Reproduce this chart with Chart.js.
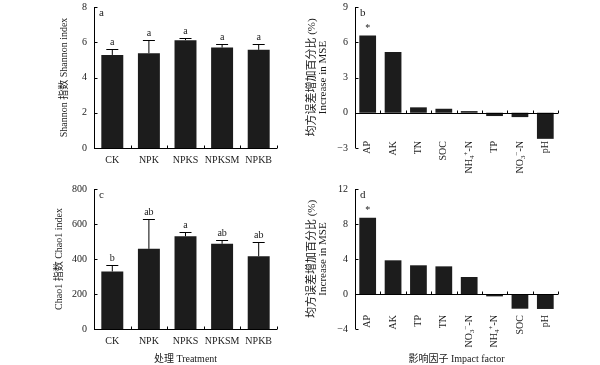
<!DOCTYPE html>
<html>
<head>
<meta charset="utf-8">
<script src="https://cdn.jsdelivr.net/npm/chart.js@4/dist/chart.umd.min.js"></script>
<style>
  body { margin: 0; background: #fff; width: 600px; height: 365px; position: relative; overflow: hidden; }
  canvas { position: absolute; }
</style>
</head>
<body>
<canvas id="pa" width="300" height="175" style="left:0;top:0"></canvas>
<canvas id="pb" width="300" height="175" style="left:300px;top:0"></canvas>
<canvas id="pc" width="300" height="190" style="left:0;top:175px"></canvas>
<canvas id="pd" width="300" height="190" style="left:300px;top:175px"></canvas>
<script>
// treatments (panels a, c)
const treatments = ['CK', 'NPK', 'NPKS', 'NPKSM', 'NPKB'];
const shannonMean = [5.28, 5.38, 6.12, 5.70, 5.57];
const shannonErr = [0.33, 0.76, 0.12, 0.19, 0.34];
const shannonSig = ['a', 'a', 'a', 'a', 'a'];
const chaoMean = [329, 458, 530, 487, 416];
const chaoErr = [34, 173, 27, 21, 84];
const chaoSig = ['b', 'ab', 'a', 'ab', 'ab'];

// impact factors (panels b, d)
const factorsB = ['AP', 'AK', 'TN', 'SOC', 'NH₄⁺-N', 'TP', 'NO₃⁻-N', 'pH'];
const mseB = [6.58, 5.16, 0.46, 0.34, 0.14, -0.28, -0.37, -2.22];
const starB = ['*', '', '', '', '', '', '', ''];
const factorsD = ['AP', 'AK', 'TP', 'TN', 'NO₃⁻-N', 'NH₄⁺-N', 'SOC', 'pH'];
const mseD = [8.72, 3.85, 3.28, 3.16, 1.94, -0.27, -1.68, -1.71];
const starD = ['*', '', '', '', '', '', '', ''];

const serif = '"Liberation Serif", "Times New Roman", "Noto Sans CJK SC", serif';
const ink = '#1a1a1a';
Chart.defaults.font.family = serif;
Chart.defaults.color = ink;

const SUB = { '₀': '0', '₁': '1', '₂': '2', '₃': '3', '₄': '4', '₅': '5' };
const SUP = { '⁺': '+', '⁻': '\u2212' };

// split a label into normal / sub / sup runs
function runs(label) {
  const out = [];
  for (const ch of label) {
    let kind = 0, c = ch;
    if (SUB[ch]) { kind = 1; c = SUB[ch]; }
    else if (SUP[ch]) { kind = -1; c = SUP[ch]; }
    const last = out[out.length - 1];
    if (last && last.kind === kind) last.text += c;
    else out.push({ kind, text: c });
  }
  return out;
}

// rotated category labels, drawn with their end near the bottom of the plot
function drawRotatedLabels(ctx, chart, lift) {
  const x = chart.scales.x;
  const yEnd = chart.chartArea.bottom - lift;
  chart.data.labels.forEach((lab, i) => {
    const parts = runs(lab);
    let total = 0;
    parts.forEach(p => {
      ctx.font = (p.kind ? 7 : 10) + 'px ' + serif;
      p.w = ctx.measureText(p.text).width;
      total += p.w;
    });
    ctx.save();
    ctx.translate(x.getPixelForValue(i), yEnd);
    ctx.rotate(-Math.PI / 2);
    ctx.textAlign = 'left';
    ctx.textBaseline = 'middle';
    let cx = -total;
    parts.forEach(p => {
      ctx.font = (p.kind ? 7 : 10) + 'px ' + serif;
      ctx.fillText(p.text, cx, p.kind * 3);
      cx += p.w;
    });
    ctx.restore();
  });
}

// axes, inward ticks, error bars and letters
const framePlugin = {
  id: 'frame',
  afterDatasetsDraw(chart, args, o) {
    const { ctx, chartArea: a, scales: { x, y } } = chart;
    ctx.save();
    ctx.strokeStyle = '#000';
    ctx.lineWidth = 1;
    ctx.beginPath();
    const lx = Math.round(a.left) + 0.5;
    ctx.moveTo(lx, a.top);
    ctx.lineTo(lx, a.bottom);
    y.ticks.forEach(t => {
      const py = Math.round(y.getPixelForValue(t.value)) + 0.5;
      ctx.moveTo(lx, py);
      ctx.lineTo(lx + 3, py);
    });
    const zy = Math.round(y.getPixelForValue(0)) + 0.5;
    ctx.moveTo(a.left, zy);
    ctx.lineTo(a.right, zy);
    for (let i = 0; i < x.ticks.length; i++) {
      const px = Math.round(x.getPixelForValue(i + 0.5)) + 0.5;
      ctx.moveTo(px, zy);
      ctx.lineTo(px, zy - 3);
    }
    ctx.stroke();

    const meta = chart.getDatasetMeta(0);
    const vals = chart.data.datasets[0].data;
    ctx.fillStyle = ink;
    ctx.textAlign = 'center';
    ctx.textBaseline = 'bottom';
    meta.data.forEach((bar, i) => {
      let topY = bar.y;
      if (o.err) {
        const ey = Math.round(y.getPixelForValue(vals[i] + o.err[i])) + 0.5;
        ctx.beginPath();
        ctx.moveTo(bar.x, bar.y);
        ctx.lineTo(bar.x, ey);
        ctx.moveTo(bar.x - 6, ey);
        ctx.lineTo(bar.x + 6, ey);
        ctx.stroke();
        topY = ey;
      }
      if (o.sig && o.sig[i]) {
        ctx.font = '10px ' + serif;
        ctx.fillText(o.sig[i], bar.x, topY - 2);
      }
    });
    ctx.font = '11px ' + serif;
    ctx.textAlign = 'left';
    ctx.textBaseline = 'top';
    ctx.fillText(o.letter, a.left + 5, a.top + 1);
    if (o.labelLift) drawRotatedLabels(ctx, chart, o.labelLift);
    ctx.restore();
  }
};

function makePanel(id, box, cfg) {
  const W = box.w, H = box.h;
  new Chart(document.getElementById(id), {
    type: 'bar',
    data: {
      labels: cfg.labels,
      datasets: [{
        data: cfg.values,
        backgroundColor: '#1c1c1c',
        borderWidth: 0,
        barPercentage: cfg.barPct,
        categoryPercentage: 1
      }]
    },
    options: {
      responsive: false,
      animation: false,
      layout: { padding: { top: box.top, right: W - box.right, left: 0, bottom: 0 } },
      plugins: {
        legend: { display: false },
        tooltip: { enabled: false },
        frame: { err: cfg.err, sig: cfg.sig, letter: cfg.letter, labelLift: cfg.labelLift }
      },
      scales: {
        x: {
          grid: { display: false, drawTicks: false },
          border: { display: false },
          ticks: {
            display: !cfg.labelLift,
            font: { size: 10 },
            color: ink,
            padding: 6,
            maxRotation: 0,
            autoSkip: false
          },
          title: cfg.xTitle ? {
            display: true, text: cfg.xTitle, color: ink,
            font: { size: 10 }, padding: { top: 0, bottom: 0 }
          } : { display: false },
          afterFit(s) {
            s.height = H - box.bottom;
            s.paddingLeft = 0; s.paddingRight = 0;
          }
        },
        y: {
          min: cfg.min, max: cfg.max,
          grid: { display: false, drawTicks: false },
          border: { display: false },
          ticks: {
            stepSize: cfg.step,
            font: { size: 10 },
            color: ink,
            padding: 7,
            callback: v => (v < 0 ? '\u2212' + Math.abs(v) : String(v))
          },
          title: {
            display: true, text: cfg.yTitle, color: ink,
            font: { size: cfg.yTitleSize, lineHeight: 1.0 },
            padding: { top: cfg.yTitlePad, bottom: 0 }
          },
          afterFit(s) {
            s.width = box.left;
            s.paddingTop = 0; s.paddingBottom = 0;
          }
        }
      }
    },
    plugins: [framePlugin]
  });
}

makePanel('pa', { w: 300, h: 175, left: 94, right: 277, top: 7, bottom: 148 }, {
  labels: treatments, values: shannonMean, err: shannonErr, sig: shannonSig, letter: 'a',
  min: 0, max: 8, step: 2, barPct: 0.6,
  yTitle: 'Shannon 指数 Shannon index', yTitleSize: 10, yTitlePad: 59
});
makePanel('pb', { w: 300, h: 175, left: 55, right: 258, top: 7, bottom: 148 }, {
  labels: factorsB, values: mseB, sig: starB, letter: 'b',
  min: -3, max: 9, step: 3, barPct: 0.66, labelLift: 7,
  yTitle: ['均方误差增加百分比 (%)', 'Increase in MSE'], yTitleSize: 11, yTitlePad: 7
});
makePanel('pc', { w: 300, h: 190, left: 94, right: 277, top: 14, bottom: 154 }, {
  labels: treatments, values: chaoMean, err: chaoErr, sig: chaoSig, letter: 'c',
  min: 0, max: 800, step: 200, barPct: 0.6,
  yTitle: 'Chao1 指数 Chao1 index', yTitleSize: 10, yTitlePad: 54,
  xTitle: '处理 Treatment'
});
makePanel('pd', { w: 300, h: 190, left: 55, right: 258, top: 14, bottom: 154 }, {
  labels: factorsD, values: mseD, sig: starD, letter: 'd',
  min: -4, max: 12, step: 4, barPct: 0.66, labelLift: 14,
  yTitle: ['均方误差增加百分比 (%)', 'Increase in MSE'], yTitleSize: 11, yTitlePad: 7,
  xTitle: '影响因子 Impact factor'
});
</script>
</body>
</html>
